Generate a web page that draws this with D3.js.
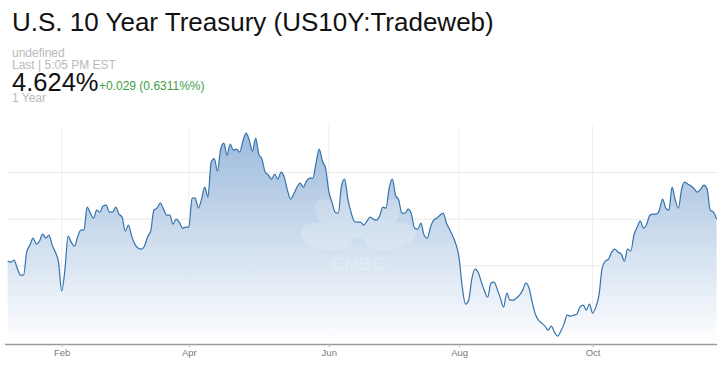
<!DOCTYPE html>
<html>
<head>
<meta charset="utf-8">
<script src="https://cdn.jsdelivr.net/npm/d3@7/dist/d3.min.js"></script>
<style>
  html, body { margin: 0; padding: 0; background: #fff; }
  svg { display: block; font-family: "Helvetica Neue", Helvetica, "Liberation Sans", Arial, sans-serif; }
</style>
</head>
<body>
<svg id="chart" width="717" height="368"></svg>
<script>
// ---- Data (US 10Y yield, daily closes, one value per trading day from early Jan) ----
const title = "U.S. 10 Year Treasury (US10Y:Tradeweb)";
const subLines = ["undefined", "Last | 5:05 PM EST"];
const lastValue = "4.624%";
const change = "+0.029 (0.6311%%)";
const period = "1 Year";

const yields = [
  4.025, 4.020, 4.031, 3.988, 3.950, 3.950, 4.075, 4.111, 4.148, 4.116,
  4.132, 4.170, 4.148, 4.164, 4.111, 4.073, 4.020, 3.865, 3.977, 4.159,
  4.127, 4.105, 4.154, 4.191, 4.191, 4.314, 4.282, 4.255, 4.298, 4.287,
  4.320, 4.325, 4.287, 4.287, 4.314, 4.277, 4.261, 4.186, 4.218, 4.159,
  4.116, 4.095, 4.089, 4.105, 4.154, 4.186, 4.298, 4.309, 4.336, 4.304,
  4.271, 4.271, 4.223, 4.250, 4.234, 4.202, 4.207, 4.207, 4.362, 4.362,
  4.309, 4.357, 4.421, 4.368, 4.555, 4.574, 4.507, 4.625, 4.657, 4.593,
  4.652, 4.619, 4.625, 4.609, 4.668, 4.710, 4.673, 4.614, 4.684, 4.598,
  4.571, 4.502, 4.486, 4.464, 4.491, 4.464, 4.502, 4.475, 4.405, 4.357,
  4.384, 4.421, 4.443, 4.421, 4.453, 4.469, 4.469, 4.550, 4.625, 4.560,
  4.523, 4.400, 4.341, 4.287, 4.282, 4.427, 4.464, 4.357, 4.287, 4.239,
  4.234, 4.234, 4.218, 4.239, 4.261, 4.250, 4.245, 4.266, 4.314, 4.309,
  4.416, 4.464, 4.378, 4.352, 4.282, 4.282, 4.304, 4.277, 4.202, 4.196,
  4.229, 4.164, 4.148, 4.207, 4.245, 4.255, 4.271, 4.282, 4.229, 4.196,
  4.159, 4.116, 4.041, 3.886, 3.795, 3.816, 3.929, 3.982, 3.966, 3.913,
  3.865, 3.832, 3.907, 3.913, 3.875, 3.827, 3.779, 3.854, 3.816, 3.816,
  3.827, 3.843, 3.870, 3.907, 3.881, 3.806, 3.741, 3.709, 3.693, 3.677,
  3.656, 3.677, 3.645, 3.624, 3.650, 3.688, 3.736, 3.731, 3.736, 3.741,
  3.779, 3.790, 3.763, 3.795, 3.747, 3.779, 3.843, 3.988, 4.025, 4.036,
  4.073, 4.089, 4.073, 4.063, 4.025, 4.089, 4.079, 4.164, 4.207, 4.239,
  4.202, 4.223, 4.271, 4.277, 4.277, 4.298, 4.357, 4.309, 4.298, 4.421,
  4.352, 4.309, 4.411, 4.448, 4.437, 4.427, 4.411, 4.395, 4.411, 4.432,
  4.411, 4.298, 4.287, 4.250
];

// trading-day index of the first session of each labelled month
const tickIndex = [17, 57, 101, 142, 184];
const tickLabels = ["Feb", "Apr", "Jun", "Aug", "Oct"];
const gridValues = [4.0, 4.25, 4.5];
const yDomain = [3.58, 4.75];

// ---- Drawing ----
const svg = d3.select("#chart");

const x = d3.scaleLinear().domain([0, yields.length - 1]).range([7.66, 716.6]);
const y = d3.scaleLinear().domain(yDomain).range([344.3, 125.7]);

const defs = svg.append("defs");
const grad = defs.append("linearGradient")
  .attr("id", "areaGrad").attr("gradientUnits", "userSpaceOnUse")
  .attr("x1", 0).attr("x2", 0).attr("y1", 125).attr("y2", 344);
grad.append("stop").attr("offset", "0%").attr("stop-color", "#93b4d9");
grad.append("stop").attr("offset", "100%").attr("stop-color", "#ffffff");

// grid
svg.append("g").selectAll("line").data(gridValues).join("line")
  .attr("x1", 7).attr("x2", 717)
  .attr("y1", d => y(d)).attr("y2", d => y(d))
  .attr("stroke", "#e9e9e9").attr("stroke-width", 1);
svg.append("g").selectAll("line").data(tickIndex).join("line")
  .attr("x1", d => x(d)).attr("x2", d => x(d))
  .attr("y1", y(yDomain[1])).attr("y2", y(yDomain[0]))
  .attr("stroke", "#efefef").attr("stroke-width", 1);

// area + line
const curve = d3.curveMonotoneX;
const area = d3.area().curve(curve).x((d, i) => x(i)).y0(y(yDomain[0])).y1(d => y(d));
const line = d3.line().curve(curve).x((d, i) => x(i)).y(d => y(d));
svg.append("path").datum(yields).attr("d", area)
  .attr("fill", "url(#areaGrad)").attr("fill-opacity", 0.95);

// watermark (peacock)
const wm = svg.append("g").attr("opacity", 0.2).attr("fill", "#ffffff");
const cx = 358, cy = 243;
[168, 133, 101, 79, 47, 12].forEach(a => {
  const r = a * Math.PI / 180;
  const ex = cx + Math.cos(r) * 33, ey = cy - Math.sin(r) * 31;
  wm.append("ellipse")
    .attr("cx", ex).attr("cy", ey)
    .attr("rx", 26).attr("ry", 13)
    .attr("transform", `rotate(${-a},${ex},${ey})`);
});
wm.append("text").attr("x", cx).attr("y", 270).attr("text-anchor", "middle")
  .attr("font-size", 19).attr("font-weight", "bold").text("CNBC");

svg.append("path").datum(yields).attr("d", line)
  .attr("fill", "none").attr("stroke", "#3473ad").attr("stroke-width", 1.2)
  .attr("stroke-linejoin", "round");

// x axis
const axis = d3.axisBottom(x).tickValues(tickIndex)
  .tickFormat((d, i) => tickLabels[i]).tickSizeInner(3).tickSizeOuter(0).tickPadding(2);
const gx = svg.append("g").attr("transform", "translate(0,344.5)").call(axis);
gx.select(".domain").attr("stroke", "#9a9a9a").attr("stroke-width", 1.5)
  .attr("d", "M5,0H717");
gx.selectAll(".tick line").attr("stroke", "#bdbdbd");
gx.selectAll(".tick text").attr("fill", "#7a7a7a").attr("font-size", 9.5)
  .attr("font-family", "\"Liberation Sans\", Arial, sans-serif");

// header
svg.append("text").attr("x", 12).attr("y", 31).attr("font-size", 26)
  .attr("fill", "#111").text(title);
svg.append("text").attr("x", 12).attr("y", 57).attr("font-size", 12)
  .attr("fill", "#b9b9b9").text(subLines[0]);
svg.append("text").attr("x", 12).attr("y", 68.5).attr("font-size", 12)
  .attr("fill", "#b9b9b9").text(subLines[1]);
const big = svg.append("text").attr("x", 12).attr("y", 91).attr("font-size", 25.5)
  .attr("fill", "#111").text(lastValue);
const bw = big.node().getComputedTextLength();
svg.append("text").attr("x", 12 + bw + 0.5).attr("y", 90).attr("font-size", 12)
  .attr("fill", "#3d9f46").text(change);
svg.append("text").attr("x", 12).attr("y", 101.5).attr("font-size", 12)
  .attr("fill", "#b9b9b9").text(period);
</script>
</body>
</html>
